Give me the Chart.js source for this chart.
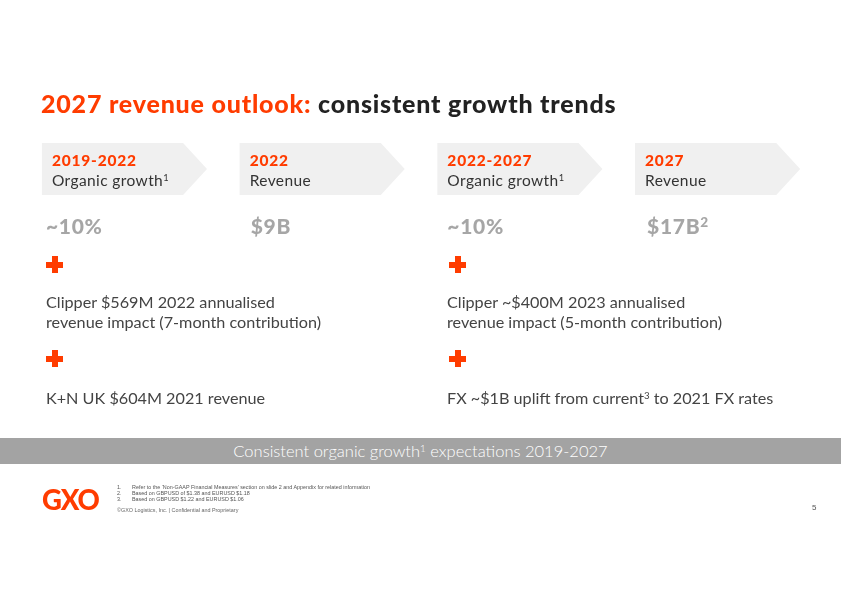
<!DOCTYPE html>
<html>
<head>
<meta charset="utf-8">
<script src="https://cdn.jsdelivr.net/npm/chart.js@4.4.1/dist/chart.umd.min.js"></script>
<style>
  html, body { margin: 0; padding: 0; background: #fff; }
  #slide { position: relative; width: 841px; height: 595px; overflow: hidden; font-family: Lato, "Noto Sans", sans-serif; color: #333; }
  #chart { position: absolute; left: 0; top: 0; }
  .abs { position: absolute; white-space: nowrap; }
  .title { left: 41px; top: 88px; font-size: 25px; font-weight: 900; color: #222; letter-spacing: 0.8px; }
  .title span { color: #ff3c00; }
  .stage { font-size: 15.5px; line-height: 20px; letter-spacing: 0.4px; }
  .stage b { color: #ff3c00; font-weight: 900; display: block; letter-spacing: 0.8px; }
  .stage sup, .body sup, .banner sup { font-size: 0.6em; line-height: 0; vertical-align: 0.55em; }
  .value { font-size: 21px; font-weight: 900; color: #a6a6a6; letter-spacing: 0.7px; }
  .value sup { font-size: 0.65em; vertical-align: 0.5em; line-height: 0; }
  .plus { position: absolute; width: 17px; height: 17px; }
  .plus::before, .plus::after { content: ""; position: absolute; background: #ff3c00; }
  .plus::before { left: 0; top: 5.5px; width: 17px; height: 6px; }
  .plus::after { left: 5.5px; top: 0; width: 6px; height: 17px; }
  .body { font-size: 16.2px; line-height: 20px; color: #444; font-weight: 400; }
  .banner { position: absolute; left: 0; top: 438px; width: 841px; height: 26px; background: #a3a3a3; color: #fff; text-align: center; font-size: 16.5px; line-height: 27px; font-weight: 300; }
  .logo { left: 42px; top: 483px; font-size: 27.5px; font-weight: 900; color: #ff3c00; letter-spacing: -1.2px; }
  .notes { left: 117px; top: 484px; font-size: 5.4px; line-height: 6px; color: #555; font-family: "Liberation Sans", Arial, sans-serif; }
  .notes div span { display: inline-block; width: 15px; }
  .copy { left: 117px; top: 507px; font-size: 5.4px; color: #666; font-family: "Liberation Sans", Arial, sans-serif; }
  .page { left: 812px; top: 503px; font-size: 8px; color: #555; font-family: "Liberation Sans", Arial, sans-serif; }
</style>
</head>
<body>
<div id="slide">
  <canvas id="chart" width="841" height="595"></canvas>
  <div class="abs title"><span>2027 revenue outlook:</span> consistent growth trends</div>
  <div id="labels"></div>

  <div class="plus" style="left:46px; top:256px;"></div>
  <div class="plus" style="left:46px; top:350px;"></div>
  <div class="plus" style="left:449px; top:256px;"></div>
  <div class="plus" style="left:449px; top:350px;"></div>

  <div class="abs body" style="left:46px; top:292px;">Clipper $569M 2022 annualised<br>revenue impact (7-month contribution)</div>
  <div class="abs body" style="left:46px; top:388px;">K+N UK $604M 2021 revenue</div>
  <div class="abs body" style="left:447px; top:292px;">Clipper ~$400M 2023 annualised<br>revenue impact (5-month contribution)</div>
  <div class="abs body" style="left:447px; top:388px;">FX ~$1B uplift from current<sup>3</sup> to 2021 FX rates</div>

  <div class="banner">Consistent organic growth<sup>1</sup> expectations 2019-2027</div>

  <div class="abs logo">GXO</div>
  <div class="abs notes">
    <div><span>1.</span>Refer to the ‘Non-GAAP Financial Measures’ section on slide 2 and Appendix for related information</div>
    <div><span>2.</span>Based on GBPUSD of $1.38 and EURUSD $1.18</div>
    <div><span>3.</span>Based on GBPUSD $1.22 and EURUSD $1.06</div>
  </div>
  <div class="abs copy">©GXO Logistics, Inc. | Confidential and Proprietary</div>
  <div class="abs page">5</div>
</div>

<script>
const stages = ['2019-2022', '2022', '2022-2027', '2027'];
const stageNames = ['Organic growth', 'Revenue', 'Organic growth', 'Revenue'];
const stageNotes = ['1', '', '1', ''];
const headlines = ['~10%', '$9B', '~10%', '$17B'];
const headlineNotes = ['', '', '', '2'];
const bandFill = [1, 1, 1, 1];

// chevron shape drawn over each bar element
const chevronPlugin = {
    id: 'chevrons',
    afterDatasetsDraw(chart) {
        const ctx = chart.ctx;
        const meta = chart.getDatasetMeta(0);
        ctx.save();
        ctx.fillStyle = '#f0f0f0';
        meta.data.forEach((bar) => {
            const left = bar.x - bar.width / 2;
            const right = bar.x + bar.width / 2;
            const h = bar.base - bar.y;
            const tip = h * 0.46;
            ctx.beginPath();
            ctx.moveTo(left, bar.y);
            ctx.lineTo(right - tip, bar.y);
            ctx.lineTo(right, bar.y + h / 2);
            ctx.lineTo(right - tip, bar.base);
            ctx.lineTo(left, bar.base);
            ctx.closePath();
            ctx.fill();
        });
        ctx.restore();
    }
};

const chart = new Chart(document.getElementById('chart'), {
    type: 'bar',
    data: {
        labels: stages,
        datasets: [{
            data: bandFill,
            backgroundColor: 'rgba(0,0,0,0)',
            borderWidth: 0,
            barPercentage: 0.835,
            categoryPercentage: 1
        }]
    },
    options: {
        responsive: false,
        animation: false,
        devicePixelRatio: 1,
        layout: { padding: { left: 25.6, right: 24.5, top: 143, bottom: 400 } },
        plugins: { legend: { display: false }, tooltip: { enabled: false } },
        scales: {
            x: { display: false, offset: true },
            y: { display: false, min: 0, max: 1 }
        }
    },
    plugins: [chevronPlugin]
});

// header and value text placed from the bar positions
const valueInset = [4, 11, 10, 12];
const holder = document.getElementById('labels');
chart.getDatasetMeta(0).data.forEach((bar, i) => {
    const left = bar.x - bar.width / 2;
    const head = document.createElement('div');
    head.className = 'abs stage';
    head.style.left = (left + 10) + 'px';
    head.style.top = (bar.y + 7) + 'px';
    head.innerHTML = '<b>' + stages[i] + '</b>' + stageNames[i] +
        (stageNotes[i] ? '<sup>' + stageNotes[i] + '</sup>' : '');
    holder.appendChild(head);

    const val = document.createElement('div');
    val.className = 'abs value';
    val.style.left = (left + valueInset[i]) + 'px';
    val.style.top = (bar.base + 18) + 'px';
    val.innerHTML = headlines[i] + (headlineNotes[i] ? '<sup>' + headlineNotes[i] + '</sup>' : '');
    holder.appendChild(val);
});
</script>
</body>
</html>
